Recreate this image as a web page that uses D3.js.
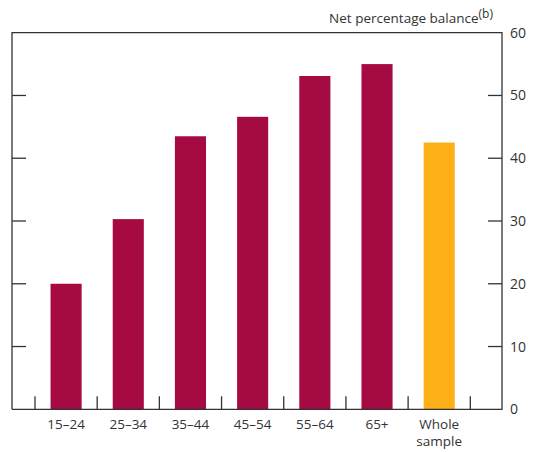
<!DOCTYPE html>
<html lang="en">
<head>
<meta charset="UTF-8">
<style>
    body {margin: 0; background: #fff; font-family: "Open Sans", sans-serif;}
    text {fill: #333;}
</style>
</head>
<body>
<div id="chart"></div>
<script src="https://d3js.org/d3.v7.min.js"></script>
<script>
// data
var categories = ["15–24", "25–34", "35–44", "45–54", "55–64", "65+", "Whole sample"];
var values = [20, 30.3, 43.5, 46.6, 53.1, 55.0, 42.5];
var yTicks = [0, 10, 20, 30, 40, 50, 60];

var width = 533, height = 452;
var plot = {left: 12, right: 502, top: 32.7, bottom: 409.3};

var svg = d3.select("#chart").append("svg")
    .attr("width", width)
    .attr("height", height);

// scales
var x = d3.scaleBand().domain(categories).range([35, 470.3]).paddingInner(0.5).paddingOuter(0.25);
var xb = d3.scaleBand().domain(categories).range([35, 470.3]);
var y = d3.scaleLinear().domain([0, 60]).range([plot.bottom, plot.top]);

// bars
svg.selectAll(".bar")
    .data(categories)
    .enter().append("rect")
    .attr("x", function(d) { return x(d); })
    .attr("y", function(d, i) { return y(values[i]); })
    .attr("width", x.bandwidth())
    .attr("height", function(d, i) { return plot.bottom - y(values[i]); })
    .attr("fill", function(d, i) { return i == categories.length - 1 ? "#fcaf17" : "#a50a42"; });

// frame
svg.append("path")
    .attr("d", "M" + plot.left + "," + plot.bottom + "V" + plot.top + "H" + plot.right + "V" + plot.bottom + "H" + plot.left)
    .attr("fill", "none")
    .attr("stroke", "#333")
    .attr("stroke-width", 1.3);

// inward y ticks both sides
yTicks.slice(1, -1).forEach(function(t) {
    svg.append("line").attr("x1", plot.left).attr("x2", plot.left + 14)
        .attr("y1", y(t)).attr("y2", y(t)).attr("stroke", "#333").attr("stroke-width", 1.3);
    svg.append("line").attr("x1", plot.right - 14).attr("x2", plot.right)
        .attr("y1", y(t)).attr("y2", y(t)).attr("stroke", "#333").attr("stroke-width", 1.3);
});

// right axis labels
svg.selectAll(".ylab")
    .data(yTicks)
    .enter().append("text")
    .attr("x", 510)
    .attr("y", function(d) { return y(d) + 5; })
    .style("font-size", "14px")
    .text(function(d) { return d; });

// x ticks at band boundaries
var bounds = categories.map(function(d) { return xb(d); }).concat([xb.range()[1]]);
svg.selectAll(".xtick")
    .data(bounds)
    .enter().append("line")
    .attr("x1", function(d) { return d; })
    .attr("x2", function(d) { return d; })
    .attr("y1", plot.bottom - 13)
    .attr("y2", plot.bottom)
    .attr("stroke", "#333")
    .attr("stroke-width", 1.3);

// x labels
svg.selectAll(".xlab")
    .data(categories)
    .enter().append("text")
    .attr("text-anchor", "middle")
    .attr("x", function(d) { return xb(d) + xb.bandwidth() / 2; })
    .attr("y", 429)
    .style("font-size", "13.5px")
    .each(function(d) {
        var words = d == "Whole sample" ? ["Whole", "sample"] : [d];
        var t = d3.select(this);
        words.forEach(function(w, i) {
            t.append("tspan").attr("x", xb(d) + xb.bandwidth() / 2).attr("dy", i ? 17 : 0).text(w);
        });
    });

// units label
var unit = svg.append("text")
    .attr("x", 493)
    .attr("y", 23)
    .attr("text-anchor", "end")
    .style("font-size", "13.5px");
unit.append("tspan").text("Net percentage balance");
unit.append("tspan").attr("dy", -5).style("font-size", "12px").text("(b)");
</script>
</body>
</html>
